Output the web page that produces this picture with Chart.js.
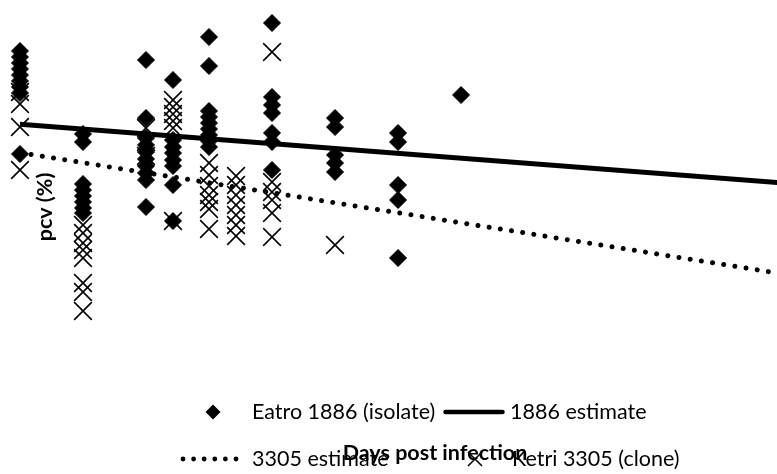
<!DOCTYPE html>
<html>
<head>
<meta charset="utf-8">
<script src="https://cdn.jsdelivr.net/npm/chart.js@4"></script>
<style>
  html, body { margin: 0; padding: 0; background: #fff; }
  #wrap { width: 777px; height: 474px; }
</style>
</head>
<body>
<div id="wrap"><canvas id="c" width="777" height="474"></canvas></div>
<script>
// ---- data (days post infection, pcv %) ----
const eatroDays = [
  0,0,0,0,0,0,0,0,0,
  7,7,7,7,7,7,7,7,
  14,14,14,14,14,14,14,14,14,14,
  17,17,17,17,17,17,17,17,
  21,21,21,21,21,21,21,21,21,
  28,28,28,28,28,28,28,
  35,35,35,35,35,
  42,42,42,42,42,
  49
];
const eatroPcv = [
  44.9,44.3,43.7,43.1,42.5,41.9,41.3,40.7,34.6,
  36.6,35.8,31.6,31.0,30.4,29.8,29.2,28.7,
  44.0,38.2,36.2,35.5,34.8,34.1,33.4,32.7,32.0,29.3,
  42.0,36.0,35.3,34.7,34.0,33.4,31.5,27.9,
  46.3,43.4,38.9,38.3,37.7,37.1,36.5,35.9,35.3,
  47.7,40.3,39.5,38.7,36.7,35.8,33.0,
  38.2,37.3,34.5,33.7,32.8,
  36.7,35.8,31.5,30.0,24.2,
  40.5
];
const ketriDays = [
  0,0,0,0,
  7,7,7,7,7,7,7,7,
  14,14,14,
  17,17,17,17,17,17,
  21,21,21,21,21,21,21,
  24,24,24,24,24,24,24,
  28,28,28,28,28,28,
  35
];
const ketriPcv = [
  40.8,39.6,37.3,33.0,
  27.5,26.7,25.7,25.0,24.2,21.7,20.8,18.9,
  37.2,35.8,34.4,
  40.0,39.3,38.6,37.9,37.2,27.9,
  33.7,32.5,31.4,30.5,29.8,29.1,27.1,
  32.4,31.5,30.5,29.5,28.5,27.5,26.4,
  44.8,31.8,30.8,30.0,28.7,26.3,
  25.5
];
// regression estimates (endpoints)
const estDays = [0, 85];
const est1886 = [37.57, 31.68];
const est3305 = [34.73, 22.57];

const seriesNames = ['Eatro 1886 (isolate)', '1886 estimate', '3305 estimate', 'Ketri 3305 (clone)'];
const xTitle = 'Days post infection';
const yTitle = 'pcv (%)';

const xRange = [-2.22, 84.1];
const yRange = [12.8, 50];

function pts(xs, ys) { return xs.map((x, i) => ({ x: x, y: ys[i] })); }

const FONT = 'Lato, "Open Sans", sans-serif';

// legend swatches
function swatch(w, h, draw) {
  const c = document.createElement('canvas');
  c.width = w; c.height = h;
  const g = c.getContext('2d');
  g.fillStyle = '#000'; g.strokeStyle = '#000';
  draw(g, w, h);
  return c;
}
const swDiamond = swatch(16, 16, (g) => {
  g.beginPath(); g.moveTo(8, 0.5); g.lineTo(15.5, 8); g.lineTo(8, 15.5); g.lineTo(0.5, 8); g.closePath(); g.fill();
});
const swCross = swatch(16, 16, (g) => {
  g.lineWidth = 1.5; g.beginPath(); g.moveTo(1, 1); g.lineTo(15, 15); g.moveTo(15, 1); g.lineTo(1, 15); g.stroke();
});
const swSolid = swatch(62, 6, (g, w) => {
  g.lineWidth = 4.5; g.lineCap = 'round'; g.beginPath(); g.moveTo(2.5, 3); g.lineTo(w - 2.5, 3); g.stroke();
});
const swDotted = swatch(60, 6, (g) => {
  for (let i = 0; i < 6; i++) { g.beginPath(); g.arc(3 + i * 10.6, 3, 2.4, 0, Math.PI * 2); g.fill(); }
});
const swatches = [swDiamond, swSolid, swDotted, swCross];

// legend grid (Excel-style two columns, two rows)
const legendSlots = [
  { box: [183, 243], textX: 252, y: 412 },
  { box: [443, 505], textX: 510, y: 412 },
  { box: [180, 240], textX: 252, y: 459 },
  { box: [445, 505], textX: 512, y: 459 }
];

const legendPlugin = {
  id: 'gridLegend',
  afterDraw(chart) {
    const ctx = chart.ctx;
    ctx.save();
    ctx.fillStyle = '#000';
    ctx.font = '21.5px ' + FONT;
    ctx.textAlign = 'left';
    ctx.textBaseline = 'middle';
    chart.data.datasets.forEach((ds, i) => {
      const s = legendSlots[i];
      const img = swatches[i];
      const cx = (s.box[0] + s.box[1]) / 2;
      ctx.drawImage(img, Math.round(cx - img.width / 2), Math.round(s.y - img.height / 2));
      ctx.fillText(ds.label, s.textX, s.y);
    });
    ctx.restore();
  }
};

const titlesPlugin = {
  id: 'axisTitles',
  afterDraw(chart) {
    const ctx = chart.ctx;
    ctx.save();
    ctx.fillStyle = '#000';
    ctx.font = 'bold 21.5px ' + FONT;
    ctx.textAlign = 'center';
    ctx.textBaseline = 'middle';
    ctx.fillText(xTitle, 435, 453);
    ctx.translate(45, 207);
    ctx.rotate(-Math.PI / 2);
    ctx.fillText(yTitle, 0, 0);
    ctx.restore();
  }
};

function build() {
  new Chart(document.getElementById('c'), {
    data: {
      datasets: [
        {
          type: 'scatter',
          label: seriesNames[0],
          data: pts(eatroDays, eatroPcv),
          pointStyle: 'rectRot',
          pointRadius: 8.5,
          pointBackgroundColor: '#000',
          pointBorderColor: '#000',
          pointBorderWidth: 1,
          backgroundColor: '#000',
          borderColor: '#000'
        },
        {
          type: 'line',
          label: seriesNames[1],
          data: pts(estDays, est1886),
          borderColor: '#000',
          backgroundColor: '#000',
          borderWidth: 5,
          pointRadius: 0,
          fill: false
        },
        {
          type: 'line',
          label: seriesNames[2],
          data: pts(estDays, est3305),
          borderColor: '#000',
          backgroundColor: '#000',
          borderWidth: 5,
          borderDash: [0.01, 11.3],
          borderCapStyle: 'round',
          pointRadius: 0,
          fill: false
        },
        {
          type: 'scatter',
          label: seriesNames[3],
          data: pts(ketriDays, ketriPcv),
          pointStyle: 'crossRot',
          pointRadius: 12.5,
          pointBorderColor: '#000',
          pointBorderWidth: 1.6,
          backgroundColor: '#000',
          borderColor: '#000'
        }
      ]
    },
    options: {
      responsive: false,
      devicePixelRatio: 1,
      animation: false,
      layout: { padding: { left: 0, right: 0, top: 0, bottom: 102 }, autoPadding: false },
      scales: {
        x: { type: 'linear', display: false, min: xRange[0], max: xRange[1] },
        y: { type: 'linear', display: false, min: yRange[0], max: yRange[1] }
      },
      plugins: {
        tooltip: { enabled: false },
        legend: { display: false }
      }
    },
    plugins: [legendPlugin, titlesPlugin]
  });
}

if (document.fonts && document.fonts.load) {
  Promise.all([document.fonts.load('21.5px Lato'), document.fonts.load('bold 21.5px Lato')]).then(build, build);
} else { build(); }
</script>
</body>
</html>
